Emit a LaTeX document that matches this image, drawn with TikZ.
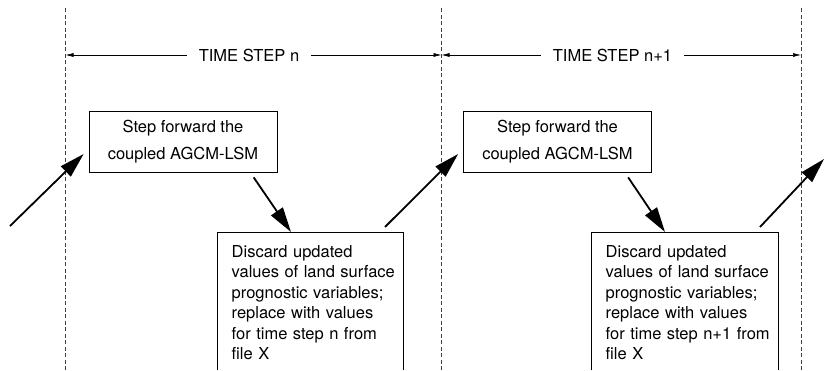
\documentclass[tikz,border=0pt]{standalone}
\usepackage{fontspec}
\setmainfont{TeX Gyre Heros}
\usetikzlibrary{arrows.meta,calc}

\tikzset{
  stepbox/.style={draw,line width=0.7pt,align=center,minimum width=188pt,
                  minimum height=61pt,inner sep=0pt,
                  font=\fontsize{16.5}{27}\selectfont},
  discbox/.style={anchor=north west,align=left,text width=170pt,
                  inner xsep=14.5pt,inner ysep=13pt,
                  font=\fontsize{16.5}{20.5}\selectfont},
  bigarrow/.style={line width=1.8pt,-{Triangle[length=25pt,width=14pt]}},
  dimarrow/.style={line width=0.6pt,-{Latex[length=8pt,width=4pt]}},
  tsline/.style={line width=0.6pt,black!75,dash pattern=on 4pt off 2.5pt}
}

\begin{document}
\begin{tikzpicture}[x=1pt,y=1pt]
  \useasboundingbox (0,0) rectangle (825,370);
  \coordinate (bot) at (0,0);
  \coordinate (T0) at (65.5,315);
  \coordinate (T1) at (441.5,315);
  \coordinate (T2) at (801,315);
  \coordinate (in) at (10,144);
  \coordinate (out) at (824,211);

  \foreach \x in {T0,T1,T2}
    \draw[tsline] (\x |- bot) -- ([yshift=47pt]\x);

  \begin{scope}[every node/.style={inner xsep=12pt,font=\fontsize{16.5}{20}\selectfont}]
    \node (L1) at (249,315) {TIME STEP n};
    \node (L2) at (612.5,315) {TIME STEP n+1};
  \end{scope}
  \draw[dimarrow] (L1) -- (T0);
  \draw[dimarrow] (L1) -- (T1);
  \draw[dimarrow] (L2) -- (T1);
  \draw[dimarrow] (L2) -- (T2);

  \node[stepbox] (F1) at (183,228.5) {Step forward the\\coupled AGCM-LSM};
  \node[stepbox] (F2) at (557.5,228.5) {Step forward the\\coupled AGCM-LSM};

  \node[discbox] (D1) at (217,138) {Discard updated\\values of land surface\\prognostic variables;\\replace with values\\for time step n from\\file X};
  \node[discbox] (D2) at (591,138) {Discard updated\\values of land surface\\prognostic variables;\\replace with values\\for time step n+1 from\\file X};
  \coordinate (D1e) at ($(D1.north west)+(186,0)$);
  \coordinate (D2e) at ($(D2.north west)+(187,0)$);
  \draw[line width=0.7pt] (D1.north west |- bot) |- (D1e) -- (D1e |- bot);
  \draw[line width=0.7pt] (D2.north west |- bot) |- (D2e) -- (D2e |- bot);

  \draw[bigarrow] (in) -- ($(F1.west)+(-5,-12.5)$);
  \draw[bigarrow] ($(F1.south west)+(165,-5)$) -- ($(D1.north west)+(74,0)$);
  \draw[bigarrow] ($(D1e)+(-18,5)$) -- ($(F2.west)+(-5,-12.5)$);
  \draw[bigarrow] ($(F2.south west)+(165,-5)$) -- ($(D2.north west)+(74,0)$);
  \draw[bigarrow] ($(D2e)+(-18,5)$) -- (out);
\end{tikzpicture}
\end{document}
